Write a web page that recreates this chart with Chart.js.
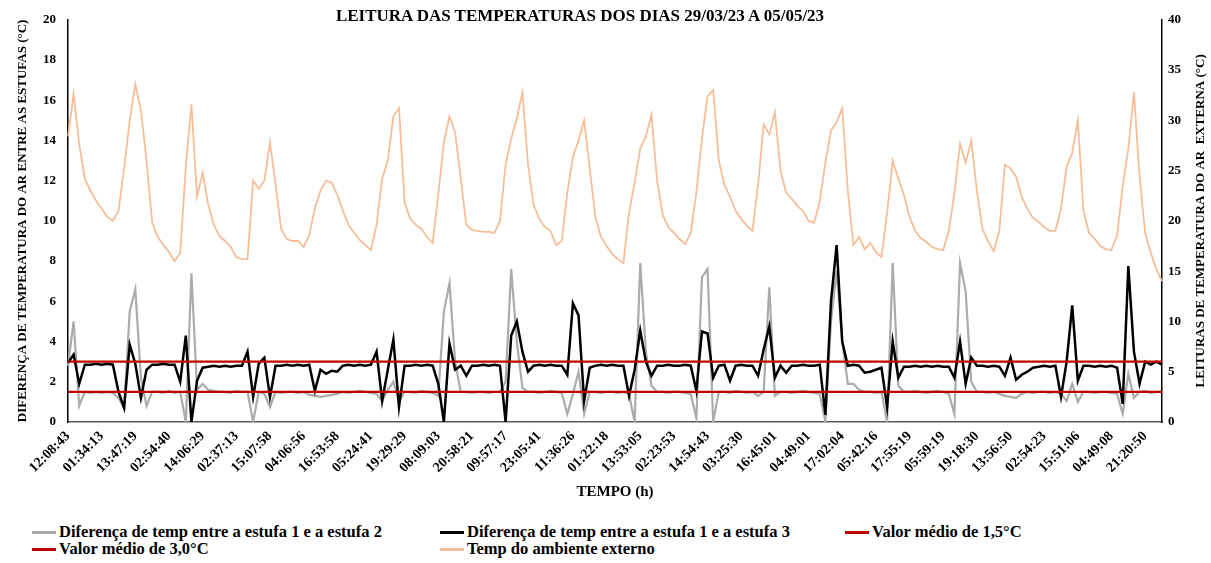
<!DOCTYPE html>
<html>
<head>
<meta charset="utf-8">
<script src="https://cdn.jsdelivr.net/npm/chart.js@4.4.0/dist/chart.umd.min.js"></script>
<style>
  body { margin: 0; background: #fff; }
  #wrap { position: relative; width: 1211px; height: 563px; font-family: "Liberation Serif", "Times New Roman", serif; }
  #chart { position: absolute; left: 0; top: 0; }
  #title { position: absolute; top: 6px; left: 0; width: 1160px; text-align: center; font-weight: bold; font-size: 17px; }
  .item { position: absolute; font-weight: bold; font-size: 16.5px; white-space: nowrap; line-height: 18px; }
  .item span.sw { display: inline-block; width: 24px; height: 3px; vertical-align: middle; margin-right: 3px; position: relative; top: -1px; }
</style>
</head>
<body>
<div id="wrap">
  <canvas id="chart" width="1211" height="505"></canvas>
  <div id="title">LEITURA DAS TEMPERATURAS DOS DIAS 29/03/23 A 05/05/23</div>
  <div id="legend"></div>
</div>
<script>
// tick labels shown on the time axis (one every 6 readings)
const tickLabels = [
  "12:08:43", "01:34:13", "13:47:19", "02:54:40", "14:06:29", "02:37:13", "15:07:58",
  "04:06:56", "16:53:58", "05:24:41", "19:29:29", "08:09:03", "20:58:21", "09:57:17",
  "23:05:41", "11:36:26", "01:22:18", "13:53:05", "02:23:53", "14:54:43", "03:25:30",
  "16:45:01", "04:49:01", "17:02:04", "05:42:16", "17:55:19", "05:59:19", "19:18:30",
  "13:56:50", "02:54:23", "15:51:06", "04:49:08", "21:20:50"
];
const pointsPerTick = 6;

// estufa 1 - estufa 2 (°C, left axis)
const dif12 = [
  2.8, 5.0, 0.8, 1.5, 1.45, 1.5, 1.45, 1.5, 1.45, 1.2,
  0.7, 5.5, 6.6, 2.2, 0.8, 1.5, 1.5, 1.45, 1.55, 1.45,
  1.5, 0.0, 7.4, 1.6, 1.9, 1.6, 1.55, 1.5, 1.5, 1.45,
  1.55, 1.5, 1.5, 0.0, 1.5, 1.4, 0.75, 1.5, 1.45, 1.5,
  1.5, 1.45, 1.5, 1.35, 1.3, 1.25, 1.3, 1.35, 1.4, 1.5,
  1.45, 1.5, 1.55, 1.5, 1.45, 1.4, 1.05, 1.6, 2.0, 1.0,
  1.5, 1.5, 1.45, 1.55, 1.5, 1.45, 1.3, 5.5, 6.9, 3.0,
  1.5, 1.5, 1.45, 1.5, 1.5, 1.45, 1.5, 1.5, 2.0, 7.6,
  4.0, 1.7, 1.5, 1.5, 1.45, 1.5, 1.55, 1.5, 1.45, 0.4,
  1.4, 2.5, 0.4, 1.5, 1.5, 1.45, 1.5, 1.5, 1.45, 1.5,
  1.4, 0.0, 7.9, 3.5, 1.8, 1.5, 1.5, 1.45, 1.5, 1.5,
  1.45, 1.4, 0.2, 7.2, 7.6, 0.0, 1.5, 1.5, 1.45, 1.55,
  1.5, 1.45, 1.5, 1.3, 1.5, 6.7, 1.3, 1.5, 1.5, 1.45,
  1.5, 1.55, 1.5, 1.45, 1.4, 0.0, 5.0, 7.5, 4.0, 1.9,
  1.9, 1.6, 1.5, 1.5, 1.45, 1.5, 0.0, 7.9, 1.8, 1.5,
  1.5, 1.55, 1.5, 1.45, 1.5, 1.55, 1.5, 1.4, 0.4, 7.9,
  6.5, 2.0, 1.5, 1.5, 1.45, 1.5, 1.4, 1.3, 1.25, 1.2,
  1.4, 1.5, 1.45, 1.5, 1.5, 1.45, 1.5, 1.4, 1.05, 1.9,
  1.0, 1.5, 1.5, 1.45, 1.5, 1.5, 1.45, 1.4, 0.4, 2.4,
  1.2, 1.5, 1.55, 1.45, 1.5, 1.5
];

// estufa 1 - estufa 3 (°C, left axis)
const dif13 = [
  2.95, 3.35, 1.9, 2.85, 2.85, 2.9, 2.85, 2.9, 2.85, 1.5,
  0.7, 3.85, 2.9, 1.2, 2.6, 2.85, 2.85, 2.9, 2.85, 2.85,
  2.0, 4.3, 0.0, 2.05, 2.7, 2.75, 2.8, 2.75, 2.8, 2.75,
  2.8, 2.8, 3.5, 1.25, 2.9, 3.2, 1.25, 2.8, 2.8, 2.85,
  2.8, 2.85, 2.8, 2.85, 1.55, 2.6, 2.4, 2.55, 2.5, 2.8,
  2.85, 2.8, 2.85, 2.8, 2.85, 3.5, 1.05, 2.6, 4.1, 0.75,
  2.8, 2.8, 2.85, 2.8, 2.85, 2.8, 1.9, 0.0, 3.9, 2.6,
  2.8, 2.3, 2.8, 2.8, 2.85, 2.8, 2.85, 2.8, 0.0, 4.3,
  5.0, 3.5, 2.5, 2.8, 2.85, 2.8, 2.85, 2.8, 2.8, 2.35,
  5.9, 5.3, 1.05, 2.7, 2.8, 2.85, 2.8, 2.85, 2.8, 2.8,
  1.3, 2.6, 4.55, 3.0, 2.3, 2.8, 2.8, 2.85, 2.8, 2.8,
  2.85, 2.8, 1.55, 4.5, 4.4, 2.2, 2.8, 2.85, 2.05, 2.8,
  2.85, 2.8, 2.8, 2.3, 3.6, 4.75, 2.2, 2.8, 2.45, 2.8,
  2.8, 2.85, 2.8, 2.8, 2.85, 0.35, 6.0, 8.8, 4.0, 2.8,
  2.85, 2.8, 2.45, 2.5, 2.6, 2.7, 0.75, 4.0, 2.2, 2.75,
  2.75, 2.8, 2.75, 2.8, 2.75, 2.8, 2.75, 2.75, 2.2, 4.0,
  1.9, 3.2, 2.8, 2.8, 2.75, 2.8, 2.75, 2.3, 3.2, 2.1,
  2.35, 2.5, 2.7, 2.75, 2.8, 2.75, 2.8, 1.25, 3.0, 5.8,
  2.05, 2.8, 2.8, 2.75, 2.8, 2.75, 2.8, 2.7, 0.9, 7.75,
  3.5, 1.9, 3.0, 2.85, 3.0, 2.85
];

// outside air temperature (°C, right axis)
const tempExterna = [
  28.4, 32.6, 27.6, 24.2, 23.0, 22.0, 21.2, 20.4, 20.0, 21.0,
  25.2, 30.0, 33.6, 31.0, 26.0, 19.8, 18.4, 17.6, 16.9, 16.0,
  16.8, 25.4, 31.6, 22.4, 24.8, 21.6, 19.6, 18.5, 18.0, 17.4,
  16.4, 16.2, 16.2, 24.0, 23.2, 24.0, 27.8, 23.6, 19.2, 18.2,
  18.0, 18.0, 17.4, 18.6, 21.2, 23.0, 24.0, 23.8, 22.6, 21.0,
  19.6, 18.8, 18.1, 17.6, 17.1, 19.6, 24.2, 26.0, 30.4, 31.2,
  21.8, 20.2, 19.6, 19.2, 18.4, 17.8, 22.6, 27.8, 30.4, 28.8,
  24.2, 19.6, 19.1, 19.0, 18.9, 18.9, 18.8, 20.0, 25.6, 28.2,
  30.2, 32.8, 25.6, 21.6, 20.2, 19.4, 19.0, 17.6, 18.0, 22.8,
  26.4, 28.0, 30.0, 25.2, 20.4, 18.4, 17.5, 16.7, 16.2, 15.8,
  20.8, 23.8, 27.2, 28.4, 30.6, 24.0, 20.6, 19.4, 18.8, 18.2,
  17.7, 18.8, 22.8, 28.2, 32.4, 33.0, 26.0, 23.6, 22.4, 21.0,
  20.2, 19.5, 19.0, 23.6, 29.6, 28.6, 30.8, 25.0, 22.8, 22.2,
  21.5, 21.0, 20.0, 19.8, 22.0, 25.8, 29.0, 29.8, 31.2, 23.0,
  17.6, 18.4, 17.2, 17.8, 16.9, 16.4, 20.8, 26.0, 24.2, 22.6,
  20.4, 19.0, 18.3, 17.9, 17.4, 17.2, 17.1, 19.0, 22.8, 27.7,
  25.8, 28.0, 23.0, 19.2, 18.0, 17.0, 19.0, 25.6, 25.2, 24.4,
  22.4, 21.2, 20.3, 19.9, 19.4, 19.0, 19.0, 21.2, 25.4, 26.8,
  30.0, 21.0, 18.8, 18.2, 17.5, 17.2, 17.1, 18.6, 23.4, 27.2,
  32.8, 24.4, 18.8, 16.8, 15.2, 14.0
];

// reference mean lines (°C, left axis)
const media15 = 1.5;
const media30 = 3.0;

const categories = tempExterna.map((_, i) => i);

const FONT = "'Liberation Serif', 'Times New Roman', serif";

const datasets = [
  { label: "Diferença de temp entre a estufa 1 e a estufa 2", data: dif12,
    borderColor: "#ABABAB", borderWidth: 2.2, yAxisID: "y", order: 3 },
  { label: "Diferença de temp entre a estufa 1 e a estufa 3", data: dif13,
    borderColor: "#000000", borderWidth: 2.5, yAxisID: "y", order: 2 },
  { label: "Valor médio de 1,5°C", data: categories.map(() => media15),
    borderColor: "#C00000", borderWidth: 2.2, yAxisID: "y", order: 1 },
  { label: "Valor médio de 3,0°C", data: categories.map(() => media30),
    borderColor: "#C00000", borderWidth: 2.2, yAxisID: "y", order: 0 },
  { label: "Temp do ambiente externo", data: tempExterna,
    borderColor: "#F6BE98", borderWidth: 1.8, yAxisID: "y1", order: 4 }
];
datasets.forEach(d => { d.pointRadius = 0; d.tension = 0; d.fill = false; });

// right axis title reads bottom-to-top, drawn by hand
const rightTitle = {
  id: "rightTitle",
  afterDraw(chart) {
    const { ctx, chartArea } = chart;
    const s = chart.scales.y1;
    ctx.save();
    ctx.translate(s.right - 10, (chartArea.top + chartArea.bottom) / 2);
    ctx.rotate(-Math.PI / 2);
    ctx.font = "bold 13px " + FONT;
    ctx.fillStyle = "#000";
    ctx.textAlign = "center";
    ctx.textBaseline = "middle";
    ctx.fillText("LEITURAS DE TEMPERATURA DO AR  EXTERNA (°C)", 0, 0);
    ctx.restore();
  }
};

new Chart(document.getElementById("chart"), {
  type: "line",
  data: { labels: categories, datasets: datasets },
  plugins: [rightTitle],
  options: {
    responsive: false,
    animation: false,
    devicePixelRatio: 1,
    layout: { padding: { top: 12, left: 0, right: 0, bottom: 0 } },
    plugins: { legend: { display: false }, tooltip: { enabled: false }, title: { display: false } },
    scales: {
      x: {
        grid: { display: false, drawTicks: false },
        border: { display: true, color: "#595959", width: 1.5 },
        afterFit: (s) => { s.height = 83; },
        ticks: {
          autoSkip: false, maxRotation: 45, minRotation: 45, padding: 6,
          color: "#000", font: { family: FONT, size: 14, weight: "bold" },
          callback: (v, i) => (i % pointsPerTick === 0 ? tickLabels[i / pointsPerTick] : null)
        },
        title: { display: true, text: "TEMPO (h)", color: "#000",
          font: { family: FONT, size: 15, weight: "bold" }, padding: { top: 0, bottom: 4 } }
      },
      y: {
        position: "left", min: 0, max: 20,
        grid: { display: false, drawTicks: false },
        border: { display: true, color: "#000", width: 1.5 },
        afterFit: (s) => { s.width = 68; },
        ticks: { stepSize: 2, padding: 12, color: "#000", font: { family: FONT, size: 13, weight: "bold" } },
        title: { display: true, text: "DIFERENÇA DE TEMPERATURA DO AR ENTRE AS ESTUFAS (°C)", color: "#000",
          font: { family: FONT, size: 13, weight: "bold" }, padding: { top: 15, bottom: 0 } }
      },
      y1: {
        position: "right", min: 0, max: 40,
        grid: { display: false, drawTicks: false },
        border: { display: true, color: "#000", width: 1.5 },
        afterFit: (s) => { s.width = 49; },
        ticks: { stepSize: 5, padding: 6, color: "#000", font: { family: FONT, size: 13, weight: "bold" } },
        title: { display: false }
      }
    }
  }
});

// legend laid out like the original two-row grid
const legendSlots = [
  { left: 32, top: 523 }, { left: 440, top: 523 }, { left: 845, top: 523 },
  { left: 32, top: 540 }, { left: 440, top: 540 }
];
const legend = document.getElementById("legend");
datasets.forEach((d, i) => {
  const el = document.createElement("div");
  el.className = "item";
  el.style.left = legendSlots[i].left + "px";
  el.style.top = legendSlots[i].top + "px";
  el.innerHTML = '<span class="sw" style="background:' + d.borderColor + '"></span>' + d.label;
  legend.appendChild(el);
});
</script>
</body>
</html>
